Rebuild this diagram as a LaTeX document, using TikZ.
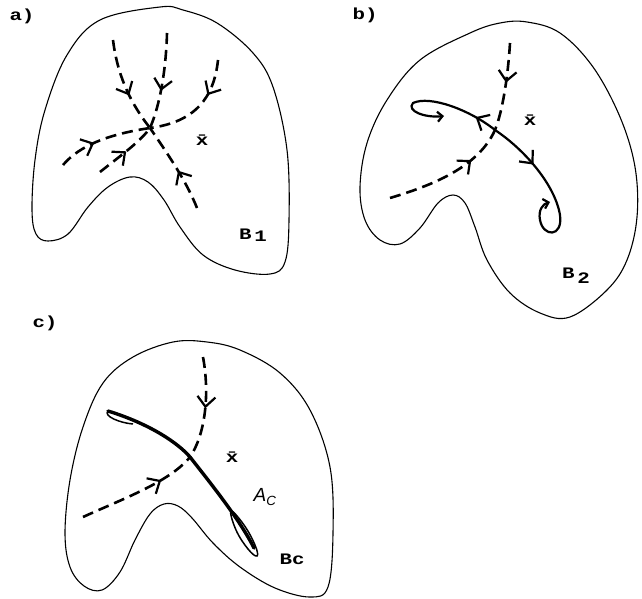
\documentclass[tikz,border=0pt]{standalone}
\usepackage{fontspec}
\newfontfamily\tagfont{Liberation Mono}[FakeStretch=1.3]
\newfontfamily\attrfont{Liberation Sans}
\usetikzlibrary{arrows.meta, decorations.markings}
\tikzset{
  basin/.style={line width=1.1pt, line join=round},
  manifold/.style={line width=2.6pt, dash pattern=on 11pt off 6pt},
  orbit/.style={line width=2.2pt, line cap=round},
  flowat/.style={postaction={decorate, decoration={markings,
      mark=at position #1 with {\arrow[solid]{Straight Barb[length=10pt,width=18pt,line width=2.2pt]}}}}},
  tag/.style={font=\tagfont\bfseries\fontsize{16}{16}\selectfont, inner sep=0pt},
  endtip/.style={-{Straight Barb[length=5pt,width=10pt,line width=2.2pt]}}
}

\begin{document}
\begin{tikzpicture}[x=1pt, y=-1pt]
  \useasboundingbox (0,0) rectangle (642,599);

  % a)
  \node[tag] (la) at (22,16) {a)};
  \draw[basin] plot[smooth cycle, tension=0.6] coordinates {(160,7) (100,20) (67,55) (45,110) (35,160)
    (32,210) (36,234) (48,241) (68,234) (88,207) (108,187) (130,177) (148,182) (164,200) (180,227)
    (203,255) (235,270) (270,274) (285,262) (289,220) (287,150) (273,87) (253,53) (217,23) (183,10)};
  \coordinate (xa) at (150,128);
  \draw[manifold, flowat=0.6] (113,40) .. controls (117,72) and (128,100) .. (xa);
  \draw[manifold, flowat=0.6] (167,33) .. controls (166,70) and (160,105) .. (xa);
  \draw[manifold, flowat=0.35] (218,60) .. controls (214,98) and (195,122) .. (xa);
  \draw[manifold, flowat=0.4] (63,165) .. controls (80,145) and (110,134) .. (xa);
  \draw[manifold, flowat=0.5] (100,172) .. controls (120,156) and (140,142) .. (xa);
  \draw[manifold, flowat=0.45] (197,208) .. controls (186,180) and (165,150) .. (xa);
  \node[tag] (xbara) at (202,140) {\=x};
  \node[tag] (Ba) at (253,235) {B\,\raisebox{-1.5pt}{1}};

  % b)
  \node[tag] (lb) at (365,15) {b)};
  \draw[basin] plot[smooth cycle, tension=0.6] coordinates {(527,22) (500,23) (470,33) (420,60) (387,100)
    (367,143) (360,187) (365,220) (380,240) (400,244) (420,228) (438,203) (453,195) (465,203) (475,227)
    (487,260) (510,293) (540,313) (570,317) (607,290) (627,260) (637,217) (635,167) (620,117) (593,67) (560,33)};
  \coordinate (xb) at (495,130);
  \draw[manifold, flowat=0.45] (510,43) .. controls (508,75) and (503,110) .. (xb);
  \draw[manifold, flowat=0.7] (390,198) .. controls (430,186) and (478,168) .. (xb);
  \draw[orbit, endtip, flowat=0.18] (xb) .. controls (470,110) and (430,95) .. (413,103)
    .. controls (406,111) and (425,118) .. (444,116);
  \draw[orbit, endtip, flowat=0.3] (xb) .. controls (525,150) and (555,185) .. (560,215)
    .. controls (563,238) and (543,237) .. (540,220) .. controls (538,210) and (543,204) .. (550,202);
  \node[tag] (xbarb) at (530,120) {\=x};
  \node[tag] (Bb) at (576,276) {B\,\raisebox{-5pt}{2}};

  % c)
  \node[tag] (lc) at (45,323) {c)};
  \draw[basin] plot[smooth cycle, tension=0.6] coordinates {(207,342) (173,342) (133,357) (103,383) (83,427)
    (70,480) (65,533) (70,567) (84,586) (102,590) (120,572) (135,540) (150,514) (164,504) (178,506)
    (192,518) (213,543) (240,567) (275,588) (310,597) (328,587) (333,533) (330,467) (310,410) (280,373) (240,350)};
  \coordinate (xc) at (190,457);
  \draw[manifold, flowat=0.5] (203,357) .. controls (210,395) and (205,435) .. (xc);
  \draw[manifold, flowat=0.7] (83,517) .. controls (120,500) and (170,482) .. (xc);
  \draw[line width=3.4pt, line cap=round] (108,411) .. controls (150,424) and (178,443) .. (xc)
    .. controls (212,485) and (240,520) .. (254,548);
  \draw[line width=1.5pt] (133,424) .. controls (120,423) and (103,416) .. (108,411);
  \draw[line width=1.5pt] plot[smooth cycle, tension=0.7] coordinates {(231,511) (244,525) (255,545)
    (257,556) (248,549) (236,530)};
  \node[tag] (xbarc) at (232,457) {\=x};
  \node[font=\attrfont\itshape\fontsize{19}{19}\selectfont, inner sep=0pt] (Ac) at (265,497)
    {A\textsubscript{C}};
  \node[tag] (Bc) at (292,559) {Bc};
\end{tikzpicture}
\end{document}
